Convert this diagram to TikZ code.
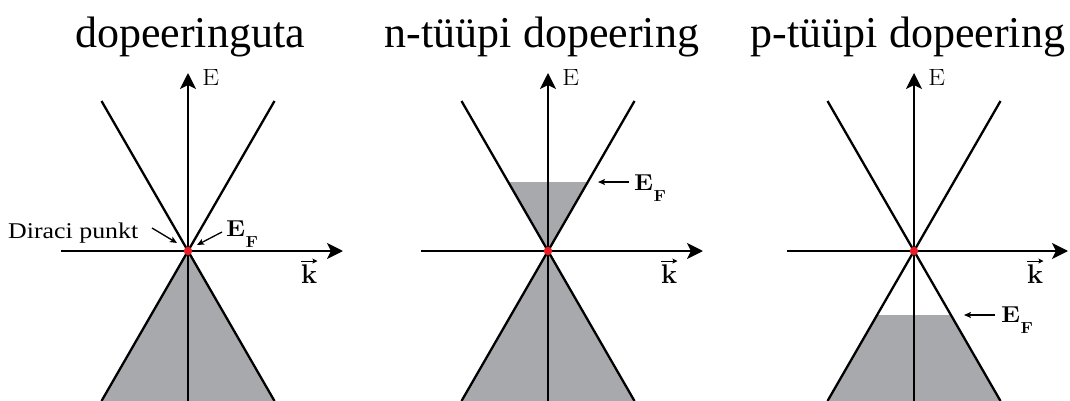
\documentclass[tikz,border=0pt]{standalone}
\usepackage{fontspec}
\setmainfont{Liberation Serif}
\newfontfamily\lmfont{Latin Modern Roman}
\usetikzlibrary{arrows.meta,calc}
\definecolor{fillgray}{RGB}{167,169,172}
\definecolor{dotred}{RGB}{232,30,38}
\newcommand\labE{\scalebox{1.15}[1]{\lmfont\fontsize{23.5}{28}\selectfont E}}
\newcommand\labK{{\lmfont\bfseries\fontsize{27}{32}\selectfont k}}
\newcommand\labEF{\scalebox{1.12}[1]{\lmfont\bfseries\fontsize{23}{28}\selectfont E}\kern0.5pt\raisebox{-11pt}{\scalebox{1.1}[1]{\lmfont\bfseries\fontsize{16}{20}\selectfont F}}}
\tikzset{
  axis/.style={line width=2.4pt,-{Stealth[length=16pt,width=16pt,inset=4pt]}},
  cone/.style={line width=2.3pt},
  band/.style={fill=fillgray,draw=none},
  small arrow/.style={line width=1.3pt,-{Stealth[length=7pt,width=6pt,inset=1.5pt]}},
  vec arrow/.style={line width=1pt,-{Stealth[length=5pt,width=5pt,inset=1pt]}},
  title/.style={anchor=base,inner sep=0pt,font=\fontsize{44}{50}\selectfont},
  lab/.style={inner sep=0pt},
  dirac/.style={circle,fill=dotred,inner sep=0pt,minimum size=8.5pt}
}
\begin{document}
\begin{tikzpicture}[x=1pt,y=-1pt]
\useasboundingbox (0,0) rectangle (1070,401);
% titles
\node[title] (t1) at (190,48) {dopeeringuta};
\node[title] (t2) at (542,48) {n-tüüpi dopeering};
\node[title] (t3) at (908,48) {p-tüüpi dopeering};

% panel origins
\coordinate (O1) at (188,251);
\coordinate (O2) at (548,251);
\coordinate (O3) at (914,251);

% ---------- panel 1 ----------
\fill[band] (O1) -- ($(O1)+(-86.5,150)$) -- ($(O1)+(86.5,150)$) -- cycle;
\coordinate (A1b) at ($(O1)+(0,150)$);
\coordinate (A1t) at ($(O1)+(0,-178)$);
\coordinate (H1l) at ($(O1)+(-127,0)$);
\coordinate (H1r) at ($(O1)+(155,0)$);
\draw[cone] ($(O1)+(-86.5,-150)$) -- ($(O1)+(86.5,150)$);
\draw[cone] ($(O1)+(86.5,-150)$) -- ($(O1)+(-86.5,150)$);
\draw[axis] (A1b) -- (A1t);
\draw[axis] (H1l) -- (H1r);
\node[dirac] (D1) at (O1) {};
\node[lab,anchor=base west] (E1) at ($(O1)+(14,-165)$) {\labE};
\node[lab,anchor=base west] (k1) at ($(O1)+(113,32)$) {\labK};
\draw[vec arrow] ($(k1.north west)+(0,-3)$) -- ($(k1.north east)+(0,-3)$);
\node[inner sep=0pt,anchor=base west] (dp) at (8,238) {\scalebox{1.15}[1]{\fontsize{22.5}{26}\selectfont Diraci punkt}};
\node[lab,anchor=base west] (EF1) at (226,236) {\labEF};
\coordinate (dpa) at (152,228);
\coordinate (dpb) at (177,243);
\coordinate (efa) at (222,232);
\coordinate (efb) at (197,245);
\draw[small arrow] (dpa) -- (dpb);
\draw[small arrow] (efa) -- (efb);

% ---------- panel 2 ----------
\fill[band] (O2) -- ($(O2)+(-86.5,150)$) -- ($(O2)+(86.5,150)$) -- cycle;
\fill[band] (O2) -- ($(O2)+(-39.8,-69)$) -- ($(O2)+(39.8,-69)$) -- cycle;
\coordinate (A2b) at ($(O2)+(0,150)$);
\coordinate (A2t) at ($(O2)+(0,-178)$);
\coordinate (H2l) at ($(O2)+(-127,0)$);
\coordinate (H2r) at ($(O2)+(155,0)$);
\draw[cone] ($(O2)+(-86.5,-150)$) -- ($(O2)+(86.5,150)$);
\draw[cone] ($(O2)+(86.5,-150)$) -- ($(O2)+(-86.5,150)$);
\draw[axis] (A2b) -- (A2t);
\draw[axis] (H2l) -- (H2r);
\node[dirac] (D2) at (O2) {};
\node[lab,anchor=base west] (E2) at ($(O2)+(14,-165)$) {\labE};
\node[lab,anchor=base west] (k2) at ($(O2)+(113,32)$) {\labK};
\draw[vec arrow] ($(k2.north west)+(0,-3)$) -- ($(k2.north east)+(0,-3)$);
\node[lab,anchor=base west] (EF2) at (634,190) {\labEF};
\coordinate (ef2a) at (629,182);
\coordinate (ef2b) at (598,182);
\draw[small arrow] (ef2a) -- (ef2b);

% ---------- panel 3 ----------
\fill[band] ($(O3)+(-37,64)$) -- ($(O3)+(-86.5,150)$) -- ($(O3)+(86.5,150)$) -- ($(O3)+(37,64)$) -- cycle;
\coordinate (A3b) at ($(O3)+(0,150)$);
\coordinate (A3t) at ($(O3)+(0,-178)$);
\coordinate (H3l) at ($(O3)+(-127,0)$);
\coordinate (H3r) at ($(O3)+(154,0)$);
\draw[cone] ($(O3)+(-86.5,-150)$) -- ($(O3)+(86.5,150)$);
\draw[cone] ($(O3)+(86.5,-150)$) -- ($(O3)+(-86.5,150)$);
\draw[axis] (A3b) -- (A3t);
\draw[axis] (H3l) -- (H3r);
\node[dirac] (D3) at (O3) {};
\node[lab,anchor=base west] (E3) at ($(O3)+(14,-165)$) {\labE};
\node[lab,anchor=base west] (k3) at ($(O3)+(113,32)$) {\labK};
\draw[vec arrow] ($(k3.north west)+(0,-3)$) -- ($(k3.north east)+(0,-3)$);
\node[lab,anchor=base west] (EF3) at (1001,322) {\labEF};
\coordinate (ef3a) at (995,315);
\coordinate (ef3b) at (964,315);
\draw[small arrow] (ef3a) -- (ef3b);
\end{tikzpicture}
\end{document}
